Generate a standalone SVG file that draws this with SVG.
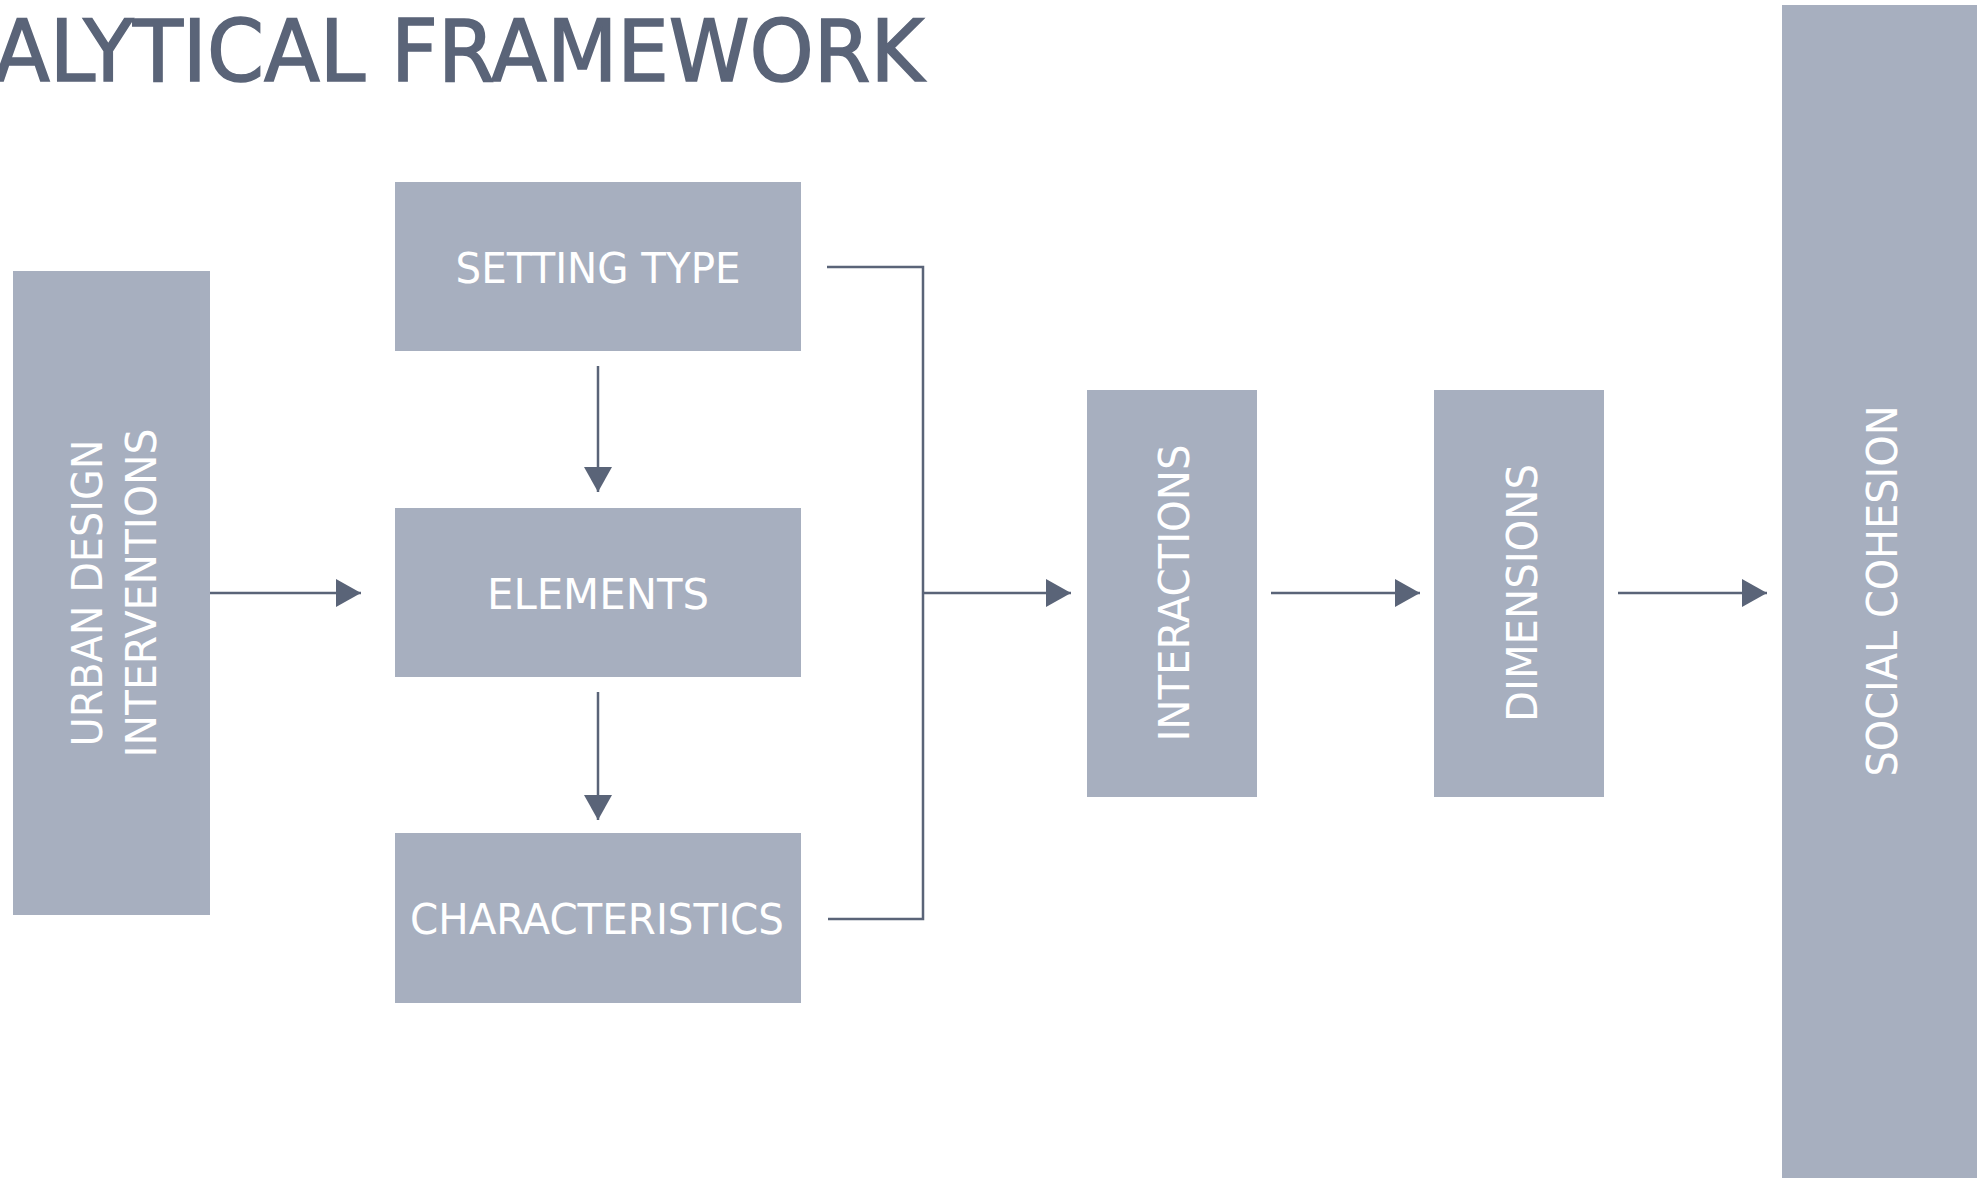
<svg xmlns="http://www.w3.org/2000/svg" width="1977" height="1178" viewBox="0 0 1977 1178">
  <defs>
    <style>
      .box { fill: #a7afbf; }
      .lbl { fill: #ffffff; font-family: "DejaVu Sans Condensed", "DejaVu Sans", sans-serif; font-size: 42px; text-anchor: middle; }
      .title { fill: #5a6478; stroke: #5a6478; stroke-width: 1.5; font-family: "DejaVu Sans Condensed", "DejaVu Sans", sans-serif; font-size: 85px; }
      .conn { fill: none; stroke: #5a6478; stroke-width: 2.5; }
    </style>
    <marker id="arr" markerUnits="userSpaceOnUse" markerWidth="26" markerHeight="30" refX="25" refY="14" orient="auto">
      <path d="M0,0 L25,14 L0,28 z" fill="#5a6478"/>
    </marker>
  </defs>
  <rect width="1977" height="1178" fill="#ffffff"/>

  <text class="title" x="-6" y="81" textLength="930" lengthAdjust="spacingAndGlyphs">ALYTICAL FRAMEWORK</text>

  <g id="urban-design-interventions">
    <rect class="box" x="13" y="271" width="197" height="644"/>
    <text class="lbl" transform="translate(102,593) rotate(-90)" textLength="307" lengthAdjust="spacingAndGlyphs">URBAN DESIGN</text>
    <text class="lbl" transform="translate(156,593) rotate(-90)" textLength="329" lengthAdjust="spacingAndGlyphs">INTERVENTIONS</text>
  </g>

  <g id="setting-type">
    <rect class="box" x="395" y="182" width="406" height="169"/>
    <text class="lbl" x="598" y="283" textLength="285" lengthAdjust="spacingAndGlyphs">SETTING TYPE</text>
  </g>

  <g id="elements">
    <rect class="box" x="395" y="508" width="406" height="169"/>
    <text class="lbl" x="598" y="609" textLength="222" lengthAdjust="spacingAndGlyphs">ELEMENTS</text>
  </g>

  <g id="characteristics">
    <rect class="box" x="395" y="833" width="406" height="170"/>
    <text class="lbl" x="597" y="934" textLength="374" lengthAdjust="spacingAndGlyphs">CHARACTERISTICS</text>
  </g>

  <g id="interactions">
    <rect class="box" x="1087" y="390" width="170" height="407"/>
    <text class="lbl" transform="translate(1189,593) rotate(-90)" textLength="297" lengthAdjust="spacingAndGlyphs">INTERACTIONS</text>
  </g>

  <g id="dimensions">
    <rect class="box" x="1434" y="390" width="170" height="407"/>
    <text class="lbl" transform="translate(1537,593) rotate(-90)" textLength="258" lengthAdjust="spacingAndGlyphs">DIMENSIONS</text>
  </g>

  <g id="social-cohesion">
    <rect class="box" x="1782" y="5" width="195" height="1173"/>
    <text class="lbl" transform="translate(1897,591) rotate(-90)" textLength="371" lengthAdjust="spacingAndGlyphs">SOCIAL COHESION</text>
  </g>

  <g id="connectors">
    <path class="conn" d="M210,593 H361" marker-end="url(#arr)"/>
    <path class="conn" d="M598,366 V492" marker-end="url(#arr)"/>
    <path class="conn" d="M598,692 V820" marker-end="url(#arr)"/>
    <path class="conn" d="M827,267 H923 V919 H828"/>
    <path class="conn" d="M923,593 H1071" marker-end="url(#arr)"/>
    <path class="conn" d="M1271,593 H1420" marker-end="url(#arr)"/>
    <path class="conn" d="M1618,593 H1767" marker-end="url(#arr)"/>
  </g>
</svg>
